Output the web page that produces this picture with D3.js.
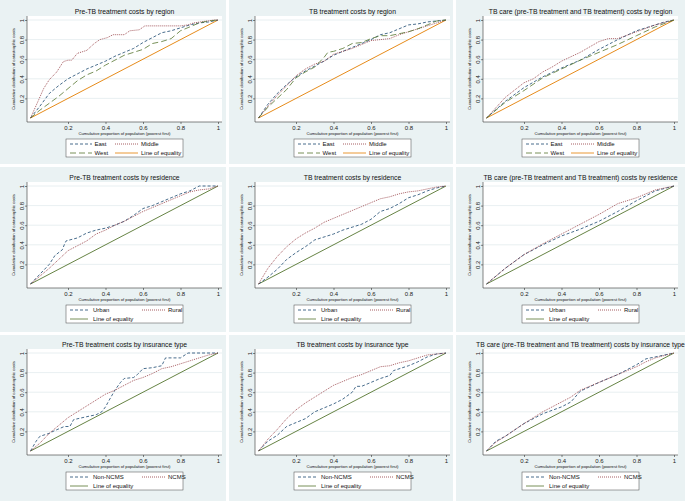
<!DOCTYPE html>
<html lang="en">
<head>
<meta charset="UTF-8">
<title>Concentration curves of catastrophic costs</title>
<script src="https://cdn.jsdelivr.net/npm/d3@7"></script>
<style>
    body { margin: 0; background: #fff; }
    svg { display: block; font-family: "Liberation Sans", Arial, sans-serif; }
</style>
</head>
<body>
<div id="chart"></div>
<script>
// tick values shared by both axes
var ticks = [0.2, 0.4, 0.6, 0.8, 1];
var equality = [[0, 0], [1, 1]];

var titles = [
    'Pre-TB treatment costs by region',
    'TB treatment costs by region',
    'TB care (pre-TB treatment and TB treatment) costs by region',
    'Pre-TB treatment costs by residence',
    'TB treatment costs by residence',
    'TB care (pre-TB treatment and TB treatment) costs by residence',
    'Pre-TB treatment costs by insurance type',
    'TB treatment costs by insurance type',
    'TB care (pre-TB treatment and TB treatment) costs by insurance type'
];

var regionNames = ['East', 'Middle', 'West'];
var residenceNames = ['Urban', 'Rural'];
var insuranceNames = ['Non-NCMS', 'NCMS'];

// row 1: by region
var preEast = [[0,0],[0.05,0.12],[0.1,0.25],[0.15,0.33],[0.2,0.40],[0.25,0.45],[0.3,0.50],[0.35,0.54],[0.4,0.58],[0.45,0.63],[0.5,0.67],[0.55,0.71],[0.6,0.77],[0.65,0.82],[0.7,0.87],[0.75,0.89],[0.8,0.92],[0.85,0.95],[0.9,0.97],[0.95,0.98],[1,1]];
var preMiddle = [[0,0],[0.04,0.17],[0.07,0.30],[0.1,0.39],[0.14,0.47],[0.175,0.575],[0.2,0.59],[0.22,0.59],[0.25,0.66],[0.3,0.69],[0.34,0.76],[0.37,0.80],[0.41,0.82],[0.44,0.85],[0.5,0.85],[0.53,0.89],[0.58,0.90],[0.61,0.94],[0.73,0.94],[0.8,0.94],[0.84,0.95],[0.87,0.97],[0.94,0.99],[0.98,1],[1,1]];
var preWest = [[0,0],[0.05,0.08],[0.1,0.15],[0.15,0.22],[0.2,0.30],[0.25,0.38],[0.3,0.44],[0.35,0.48],[0.4,0.54],[0.45,0.59],[0.5,0.64],[0.55,0.67],[0.6,0.70],[0.65,0.76],[0.7,0.78],[0.75,0.81],[0.8,0.89],[0.85,0.93],[0.9,0.97],[0.95,0.99],[1,1]];

var tbEast = [[0,0],[0.05,0.14],[0.1,0.25],[0.15,0.34],[0.2,0.42],[0.25,0.48],[0.3,0.53],[0.35,0.58],[0.4,0.64],[0.45,0.68],[0.5,0.72],[0.55,0.76],[0.6,0.80],[0.65,0.85],[0.7,0.87],[0.75,0.91],[0.8,0.95],[0.85,0.96],[0.9,0.98],[0.95,0.99],[1,1]];
var tbMiddle = [[0,0],[0.05,0.12],[0.1,0.23],[0.15,0.33],[0.2,0.43],[0.25,0.50],[0.3,0.55],[0.35,0.58],[0.4,0.65],[0.45,0.68],[0.5,0.71],[0.55,0.75],[0.6,0.79],[0.65,0.80],[0.7,0.81],[0.75,0.85],[0.8,0.88],[0.85,0.91],[0.9,0.94],[0.95,0.97],[1,1]];
var tbWest = [[0,0],[0.05,0.11],[0.1,0.20],[0.15,0.29],[0.2,0.41],[0.25,0.47],[0.3,0.52],[0.35,0.62],[0.37,0.67],[0.4,0.68],[0.45,0.71],[0.5,0.76],[0.55,0.77],[0.6,0.81],[0.65,0.84],[0.7,0.84],[0.75,0.86],[0.8,0.88],[0.85,0.91],[0.9,0.95],[0.95,0.99],[1,1]];

var careEast = [[0,0],[0.1,0.17],[0.2,0.31],[0.3,0.42],[0.4,0.51],[0.5,0.59],[0.6,0.70],[0.7,0.80],[0.8,0.89],[0.9,0.95],[0.95,0.98],[1,1]];
var careMiddle = [[0,0],[0.1,0.21],[0.2,0.36],[0.25,0.40],[0.3,0.47],[0.35,0.52],[0.4,0.58],[0.5,0.67],[0.6,0.78],[0.65,0.81],[0.7,0.81],[0.8,0.88],[0.9,0.95],[1,1]];
var careWest = [[0,0],[0.1,0.16],[0.2,0.28],[0.3,0.41],[0.4,0.50],[0.5,0.59],[0.6,0.67],[0.7,0.75],[0.8,0.84],[0.9,0.93],[1,1]];

// row 2: by residence
var preUrban = [[0,0],[0.05,0.10],[0.1,0.20],[0.13,0.29],[0.17,0.35],[0.18,0.40],[0.19,0.44],[0.25,0.47],[0.3,0.52],[0.35,0.55],[0.4,0.57],[0.45,0.60],[0.5,0.64],[0.55,0.70],[0.6,0.77],[0.65,0.80],[0.7,0.84],[0.75,0.88],[0.8,0.92],[0.85,0.95],[0.9,1],[1,1]];
var preRural = [[0,0],[0.05,0.08],[0.1,0.16],[0.15,0.25],[0.2,0.34],[0.25,0.39],[0.3,0.44],[0.35,0.51],[0.4,0.55],[0.45,0.60],[0.5,0.64],[0.55,0.69],[0.6,0.74],[0.65,0.78],[0.7,0.82],[0.75,0.86],[0.8,0.90],[0.85,0.94],[0.9,0.96],[0.95,0.97],[1,1]];

var tbUrban = [[0,0],[0.05,0.07],[0.1,0.15],[0.15,0.25],[0.2,0.32],[0.25,0.38],[0.3,0.45],[0.35,0.48],[0.4,0.51],[0.45,0.55],[0.5,0.58],[0.55,0.61],[0.6,0.66],[0.65,0.74],[0.7,0.77],[0.75,0.82],[0.8,0.88],[0.85,0.91],[0.9,0.95],[0.95,0.98],[1,1]];
var tbRural = [[0,0],[0.05,0.16],[0.1,0.28],[0.15,0.38],[0.2,0.46],[0.25,0.52],[0.3,0.57],[0.35,0.63],[0.4,0.67],[0.45,0.71],[0.5,0.75],[0.55,0.79],[0.6,0.83],[0.65,0.87],[0.7,0.89],[0.75,0.92],[0.8,0.94],[0.85,0.95],[0.9,0.97],[0.95,0.99],[1,1]];

var careUrban = [[0,0],[0.1,0.16],[0.2,0.30],[0.3,0.40],[0.4,0.49],[0.5,0.56],[0.6,0.64],[0.7,0.74],[0.8,0.85],[0.9,0.95],[1,1]];
var careRural = [[0,0],[0.1,0.16],[0.2,0.30],[0.3,0.41],[0.4,0.51],[0.5,0.61],[0.6,0.71],[0.7,0.82],[0.8,0.88],[0.9,0.96],[1,1]];

// row 3: by insurance type
var preNon = [[0,0],[0.03,0.10],[0.05,0.15],[0.1,0.18],[0.12,0.20],[0.18,0.25],[0.21,0.25],[0.23,0.32],[0.3,0.35],[0.35,0.37],[0.38,0.40],[0.4,0.45],[0.42,0.52],[0.45,0.62],[0.48,0.70],[0.5,0.74],[0.55,0.75],[0.57,0.78],[0.6,0.84],[0.65,0.85],[0.7,0.87],[0.72,0.95],[0.8,0.95],[0.84,1],[1,1]];
var preNcms = [[0,0],[0.05,0.08],[0.1,0.18],[0.15,0.26],[0.2,0.34],[0.25,0.40],[0.3,0.46],[0.35,0.52],[0.4,0.58],[0.45,0.62],[0.5,0.67],[0.55,0.72],[0.6,0.75],[0.65,0.79],[0.7,0.84],[0.75,0.86],[0.8,0.89],[0.85,0.92],[0.9,0.95],[0.95,0.98],[1,1]];

var tbNon = [[0,0],[0.05,0.10],[0.1,0.16],[0.15,0.25],[0.2,0.29],[0.25,0.33],[0.3,0.40],[0.35,0.44],[0.4,0.48],[0.45,0.53],[0.5,0.60],[0.52,0.66],[0.55,0.66],[0.6,0.70],[0.65,0.74],[0.7,0.77],[0.72,0.82],[0.8,0.87],[0.85,0.91],[0.9,0.96],[0.95,0.99],[1,1]];
var tbNcms = [[0,0],[0.05,0.12],[0.1,0.22],[0.15,0.33],[0.2,0.42],[0.25,0.49],[0.3,0.55],[0.35,0.61],[0.4,0.67],[0.45,0.71],[0.5,0.75],[0.55,0.78],[0.6,0.82],[0.65,0.86],[0.7,0.87],[0.75,0.90],[0.8,0.92],[0.85,0.95],[0.9,0.98],[1,1]];

var careNon = [[0,0],[0.05,0.10],[0.1,0.15],[0.2,0.28],[0.3,0.38],[0.4,0.45],[0.45,0.50],[0.5,0.61],[0.6,0.70],[0.7,0.78],[0.8,0.88],[0.85,0.94],[0.9,0.96],[1,1]];
var careNcms = [[0,0],[0.05,0.09],[0.1,0.15],[0.2,0.28],[0.3,0.40],[0.4,0.50],[0.45,0.55],[0.5,0.62],[0.6,0.70],[0.7,0.78],[0.8,0.86],[0.85,0.91],[0.9,0.95],[1,1]];

var navy = '#1a476f', maroon = '#90353b', green = '#55752f', orange = '#e37e00';
var dashShort = '3,2', dashDot = '1,1', dashLong = '6,3';

function regionSeries(a, b, c) {
    return [
        {name: regionNames[0], data: a, color: navy, dash: dashShort},
        {name: regionNames[1], data: b, color: maroon, dash: dashDot},
        {name: regionNames[2], data: c, color: green, dash: dashLong}
    ];
}
function twoSeries(names, a, b) {
    return [
        {name: names[0], data: a, color: navy, dash: dashShort},
        {name: names[1], data: b, color: maroon, dash: dashDot}
    ];
}

var panels = [
    {series: regionSeries(preEast, preMiddle, preWest), eq: orange, region: true},
    {series: regionSeries(tbEast, tbMiddle, tbWest), eq: orange, region: true},
    {series: regionSeries(careEast, careMiddle, careWest), eq: orange, region: true},
    {series: twoSeries(residenceNames, preUrban, preRural), eq: green},
    {series: twoSeries(residenceNames, tbUrban, tbRural), eq: green},
    {series: twoSeries(residenceNames, careUrban, careRural), eq: green},
    {series: twoSeries(insuranceNames, preNon, preNcms), eq: green},
    {series: twoSeries(insuranceNames, tbNon, tbNcms), eq: green},
    {series: twoSeries(insuranceNames, careNon, careNcms), eq: green}
];

var W = 685, H = 501;
var svg = d3.select('#chart').append('svg').attr('width', W).attr('height', H);
svg.append('rect').attr('width', W).attr('height', H).attr('fill', '#fff');

// panel backgrounds and content offsets
var bgX = [[0, 226], [229, 453], [456, 690]];
var bgY = [[0, 164], [167, 332], [335, 501]];
var offX = [0, 228, 456];
var offY = [0, 166, 333];

var x = d3.scaleLinear().domain([0, 1]).range([30.5, 218]);
var y = d3.scaleLinear().domain([0, 1]).range([118, 20]);
var line = d3.line().x(function (d) { return x(d[0]); }).y(function (d) { return y(d[1]); });

panels.forEach(function (p, i) {
    var col = i % 3, row = Math.floor(i / 3);
    svg.append('rect')
        .attr('x', bgX[col][0]).attr('y', bgY[row][0])
        .attr('width', bgX[col][1] - bgX[col][0]).attr('height', bgY[row][1] - bgY[row][0])
        .attr('fill', '#eaf2f3');

    var g = svg.append('g').attr('transform', 'translate(' + offX[col] + ',' + offY[row] + ')');

    // plot region
    g.append('rect').attr('x', 27).attr('y', 16).attr('width', 195).attr('height', 106).attr('fill', '#fff');
    g.selectAll('.grid').data(ticks).enter().append('line')
        .attr('x1', 27).attr('x2', 222)
        .attr('y1', function (d) { return y(d); }).attr('y2', function (d) { return y(d); })
        .attr('stroke', '#e2ebee').attr('stroke-width', 0.8);

    // axes
    var ya = g.append('g').attr('transform', 'translate(27,0)')
        .call(d3.axisLeft(y).tickValues(ticks).tickFormat(d3.format('~g')).tickSize(2).tickSizeOuter(0));
    ya.select('.domain').remove();
    ya.selectAll('line').attr('stroke', '#333').attr('stroke-width', 0.6);
    ya.selectAll('text')
        .attr('transform', 'rotate(-90)').attr('x', 0).attr('y', -3).attr('dy', 0)
        .style('text-anchor', 'middle').style('font-size', '6px').attr('fill', '#222');
    g.append('line').attr('x1', 27).attr('x2', 27).attr('y1', 16).attr('y2', 122).attr('stroke', '#333').attr('stroke-width', 0.6);

    var xa = g.append('g').attr('transform', 'translate(0,122)')
        .call(d3.axisBottom(x).tickValues(ticks).tickFormat(d3.format('~g')).tickSize(2).tickPadding(2).tickSizeOuter(0));
    xa.select('.domain').remove();
    xa.selectAll('line').attr('stroke', '#333').attr('stroke-width', 0.6);
    xa.selectAll('text').style('font-size', '6px').attr('fill', '#222');
    g.append('line').attr('x1', 27).attr('x2', 222).attr('y1', 122).attr('y2', 122).attr('stroke', '#333').attr('stroke-width', 0.6);

    // titles
    g.append('text').attr('x', 124.5).attr('y', 14.3).attr('text-anchor', 'middle')
        .style('font-size', '6.8px').attr('fill', '#111').text(titles[i]);
    g.append('text').attr('x', 124.5).attr('y', 134.6).attr('text-anchor', 'middle')
        .style('font-size', '4.2px').attr('fill', '#111').text('Cumulative proportion of population (poorest first)');
    g.append('text').attr('transform', 'translate(14.5,69) rotate(-90)').attr('text-anchor', 'middle')
        .style('font-size', '4.2px').attr('fill', '#111').text('Cumulative distribution of catastrophic costs');

    // curves
    g.append('path').datum(equality).attr('d', line).attr('fill', 'none')
        .attr('stroke', p.eq).attr('stroke-width', 0.9);
    p.series.forEach(function (s) {
        g.append('path').datum(s.data).attr('d', line).attr('fill', 'none')
            .attr('stroke', s.color).attr('stroke-width', 0.8).attr('stroke-dasharray', s.dash);
    });

    // legend
    var lg = g.append('g');
    lg.append('rect').attr('x', 66).attr('y', 139).attr('width', 117).attr('height', 18)
        .attr('fill', '#fff').attr('stroke', '#444').attr('stroke-width', 0.5);
    var items;
    if (p.region) {
        items = [
            {s: p.series[0], x1: 70, x2: 92, tx: 94.5, ry: 144},
            {s: p.series[1], x1: 115, x2: 138, tx: 141, ry: 144},
            {s: p.series[2], x1: 70, x2: 92, tx: 94.5, ry: 153},
            {s: {name: 'Line of equality', color: p.eq, dash: null}, x1: 115, x2: 138, tx: 141, ry: 153}
        ];
    } else {
        items = [
            {s: p.series[0], x1: 70, x2: 90, tx: 93, ry: 144},
            {s: p.series[1], x1: 142, x2: 166, tx: 168, ry: 144},
            {s: {name: 'Line of equality', color: p.eq, dash: null}, x1: 70, x2: 88, tx: 93, ry: 153}
        ];
    }
    items.forEach(function (it) {
        lg.append('line').attr('x1', it.x1).attr('x2', it.x2).attr('y1', it.ry).attr('y2', it.ry)
            .attr('stroke', it.s.color).attr('stroke-width', 0.8).attr('stroke-dasharray', it.s.dash);
        lg.append('text').attr('x', it.tx).attr('y', it.ry + 2.1)
            .style('font-size', '6px').attr('fill', '#111').text(it.s.name);
    });
});
</script>
</body>
</html>
